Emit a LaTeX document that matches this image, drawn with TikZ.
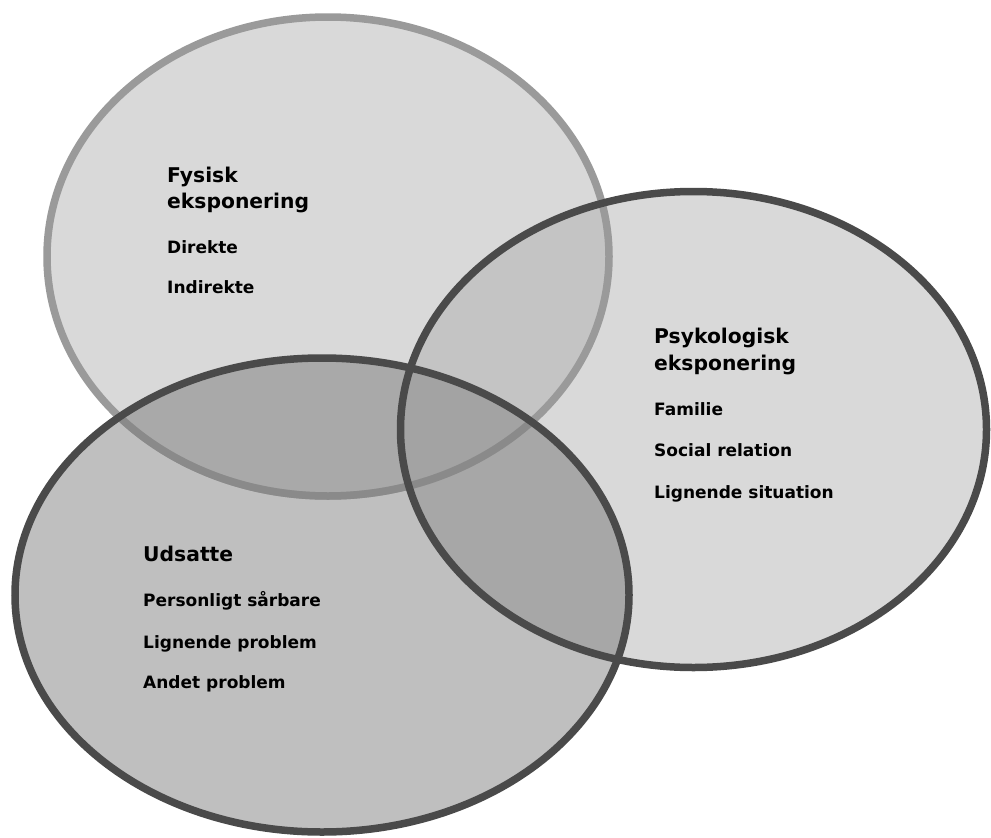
\documentclass[tikz,border=0pt]{standalone}
\usepackage{fontspec}
\setmainfont{DejaVu Sans}
\definecolor{fillA}{HTML}{D9D9D9}
\definecolor{fillU}{HTML}{BFBFBF}
\definecolor{fillFP}{HTML}{C4C4C4}
\definecolor{fillFU}{HTML}{A9A9A9}
\definecolor{fillPU}{HTML}{A7A7A7}
\definecolor{fillFPU}{HTML}{A3A3A3}
\definecolor{rimF}{HTML}{9A9A9A}
\definecolor{rimFdark}{HTML}{8A8A8A}
\definecolor{rimD}{HTML}{4A4A4A}
\def\ellF{(328,256.5) ellipse [x radius=281pt, y radius=239.5pt]}
\def\ellP{(693.5,429.5) ellipse [x radius=293pt, y radius=238pt]}
\def\ellU{(322,595) ellipse [x radius=307pt, y radius=237pt]}
\tikzset{
  title/.style={anchor=base west, inner sep=0pt, font=\bfseries\fontsize{20.3}{24}\selectfont},
  item/.style={anchor=base west, inner sep=0pt, font=\bfseries\fontsize{17}{20}\selectfont},
  rim/.style={line width=7.5pt}
}
\begin{document}
\begin{tikzpicture}[x=1pt,y=-1pt]
\useasboundingbox[fill=white] (0,0) rectangle (991,838);
% base fills
\fill[fillA] \ellF;
\fill[fillA] \ellP;
\fill[fillU] \ellU;
% overlaps
\begin{scope}
  \clip \ellF;
  \fill[fillFP] \ellP;
  \fill[fillFU] \ellU;
\end{scope}
\begin{scope}
  \clip \ellP;
  \fill[fillPU] \ellU;
\end{scope}
\begin{scope}
  \clip \ellF;
  \clip \ellP;
  \fill[fillFPU] \ellU;
\end{scope}
% rims
\draw[rim, rimF] \ellF;
\begin{scope}
  \clip \ellU;
  \draw[rim, rimFdark] \ellF;
\end{scope}
\draw[rim, rimD] \ellP;
\draw[rim, rimD] \ellU;
% texts
\node[title] (f1) at (167,182) {Fysisk};
\node[title] (f2) at (167,208) {eksponering};
\node[item]  (f3) at (167,253) {Direkte};
\node[item]  (f4) at (167,293) {Indirekte};
\node[title] (p1) at (654,343) {Psykologisk};
\node[title] (p2) at (654,370) {eksponering};
\node[item]  (p3) at (654,415) {Familie};
\node[item]  (p4) at (654,456) {Social relation};
\node[item]  (p5) at (654,498) {Lignende situation};
\node[title] (u1) at (143,561) {Udsatte};
\node[item]  (u2) at (143,606) {Personligt sårbare};
\node[item]  (u3) at (143,648) {Lignende problem};
\node[item]  (u4) at (143,688) {Andet problem};
\end{tikzpicture}
\end{document}
